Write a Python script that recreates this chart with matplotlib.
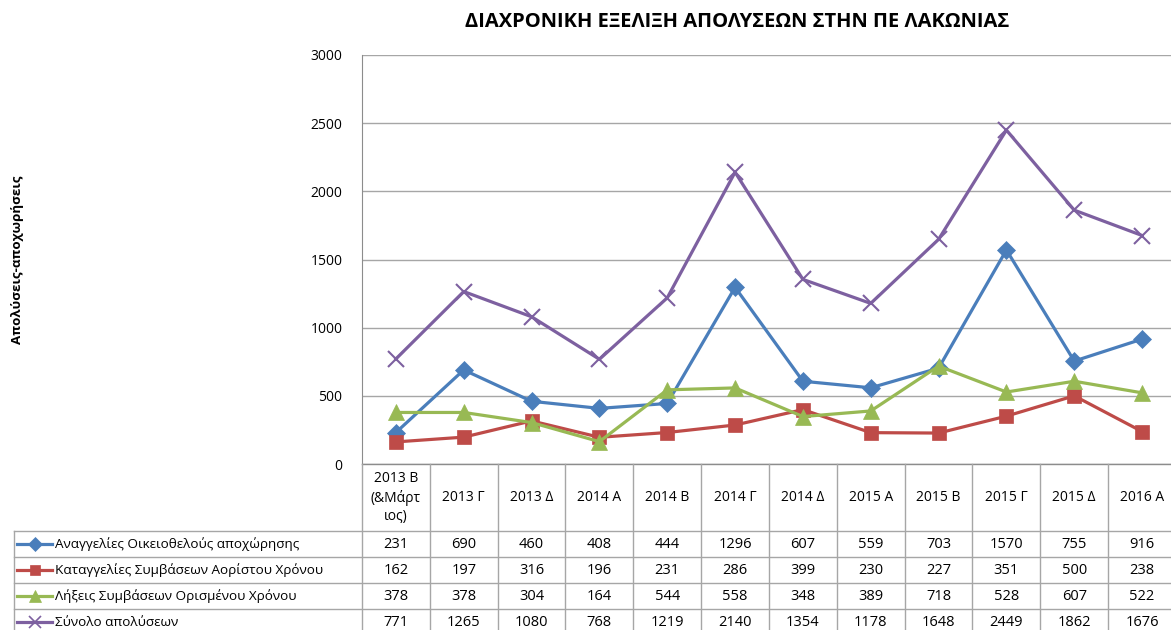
import matplotlib
matplotlib.use("Agg")
from matplotlib import pyplot as plt
from matplotlib.lines import Line2D

plt.rcParams['font.family'] = ['Open Sans', 'DejaVu Sans']

#--- Data
periods = ['2013 B\n(&Μάρτ\nιος)', '2013 Γ', '2013 Δ', '2014 A', '2014 B', '2014 Γ',
           '2014 Δ', '2015 A', '2015 B', '2015 Γ', '2015 Δ', '2016 A']
voluntary = [231, 690, 460, 408, 444, 1296, 607, 559, 703, 1570, 755, 916]
indefinite = [162, 197, 316, 196, 231, 286, 399, 230, 227, 351, 500, 238]
fixed_term = [378, 378, 304, 164, 544, 558, 348, 389, 718, 528, 607, 522]
total = [771, 1265, 1080, 768, 1219, 2140, 1354, 1178, 1648, 2449, 1862, 1676]

series_names = ['Αναγγελίες Οικειοθελούς αποχώρησης',
                'Καταγγελίες Συμβάσεων Αορίστου Χρόνου',
                'Λήξεις Συμβάσεων Ορισμένου Χρόνου',
                'Σύνολο απολύσεων']
series_values = [voluntary, indefinite, fixed_term, total]
colors = ['#4A7EBB', '#BE4B48', '#98B954', '#7D60A0']
markers = ['D', 's', '^', 'x']
msizes = [9, 9.5, 11, 11]

#--- Layout in pixels (figure 1171 x 630)
W, H = 1171, 630
plot_left, plot_right = 362, 1176
plot_top, plot_bottom = 55, 464
tab_left = 14
header_bottom = 531
row_h = 26
grid_col = '#A6A6A6'
line_col = '#8C8C8C'

fig = plt.figure(figsize=(W / 100, H / 100), dpi=100)

# ------------------------ Main chart ------------------------
ax = fig.add_axes([plot_left / W, (H - plot_bottom) / H,
                   (plot_right - plot_left) / W, (plot_bottom - plot_top) / H])
x = list(range(len(periods)))
for vals, c, m, ms in zip(series_values, colors, markers, msizes):
    ax.plot(x, vals, color=c, marker=m, markersize=ms, linewidth=2.3,
            markeredgewidth=1.5 if m == 'x' else 0.5, markeredgecolor=c,
            clip_on=False, zorder=3)

ax.set_xlim(-0.5, len(periods) - 0.5)
ax.set_ylim(0, 3000)
ax.set_yticks(range(0, 3001, 500))
ax.set_xticks([])
ax.tick_params(axis='y', length=0, pad=14, labelsize=10)
ax.grid(axis='y', color=grid_col, linewidth=1)
ax.set_axisbelow(True)
for s in ['top', 'right', 'bottom']:
    ax.spines[s].set_visible(False)
ax.spines['left'].set_color(line_col)

fig.text(737 / W, 1 - 22 / H, 'ΔΙΑΧΡΟΝΙΚΗ ΕΞΕΛΙΞΗ ΑΠΟΛΥΣΕΩΝ ΣΤΗΝ ΠΕ ΛΑΚΩΝΙΑΣ',
         ha='center', va='center', fontsize=14.5, fontweight='bold')
fig.text(18 / W, 1 - 260 / H, 'Απολύσεις-αποχωρήσεις', rotation=90,
         ha='center', va='center', fontsize=9.6, fontweight='bold')

# ------------------------ Data table ------------------------
col_w = (plot_right - plot_left) / len(periods)
tab_xmin = -0.5 - (plot_left - tab_left) / col_w
tab = fig.add_axes([tab_left / W, 0, (plot_right - tab_left) / W, (H - plot_bottom) / H])
tab.set_xlim(tab_xmin, len(periods) - 0.5)
tab.set_ylim(H, plot_bottom)
tab.axis('off')

n_rows = len(series_values)
table_bottom = header_bottom + row_h * n_rows
# horizontal lines
tab.plot([-0.5, len(periods) - 0.5], [plot_bottom, plot_bottom], color=line_col, lw=1, clip_on=False)
for r in range(n_rows):
    yy = header_bottom + r * row_h
    tab.plot([tab_xmin, len(periods) - 0.5], [yy, yy], color=grid_col, lw=1, clip_on=False)
# vertical lines
tab.plot([tab_xmin, tab_xmin], [header_bottom, table_bottom], color=grid_col, lw=1, clip_on=False)
for i in range(len(periods) + 1):
    tab.plot([i - 0.5, i - 0.5], [plot_bottom, table_bottom], color=grid_col, lw=1, clip_on=False)

# header text
for i, p in enumerate(periods):
    tab.text(i, (plot_bottom + header_bottom) / 2, p, ha='center', va='center',
             fontsize=10, linespacing=1.3)

# rows
px = 1 / col_w
for r, (name, vals, c, m, ms) in enumerate(zip(series_names, series_values, colors, markers, msizes)):
    yc = header_bottom + r * row_h + row_h / 2
    for i, v in enumerate(vals):
        tab.text(i, yc, str(v), ha='center', va='center', fontsize=10.5)
    # legend key
    x0 = tab_xmin + 3 * px
    x1 = tab_xmin + 38 * px
    tab.add_line(Line2D([x0, x1], [yc, yc], color=c, lw=2.3))
    tab.add_line(Line2D([(x0 + x1) / 2], [yc], color=c, marker=m, markersize=ms * 0.8,
                        markeredgecolor=c, markeredgewidth=1.2 if m == 'x' else 0.5))
    tab.text(tab_xmin + 41 * px, yc, name, ha='left', va='center', fontsize=9.7)

fig.savefig('out.png', dpi=100)
